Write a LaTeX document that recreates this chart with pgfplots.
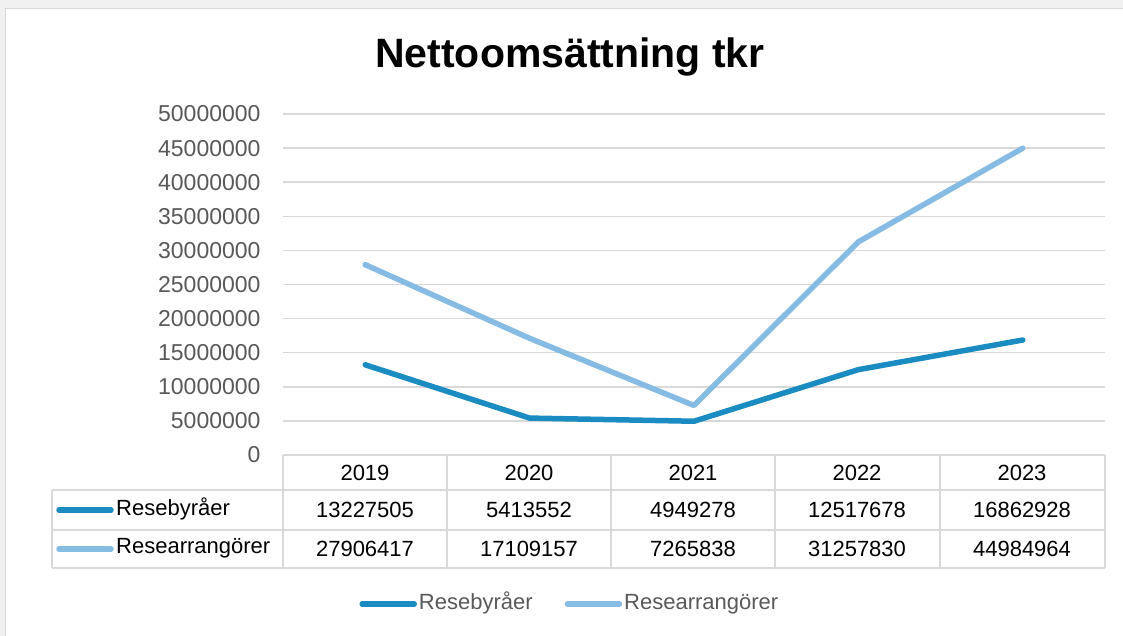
\documentclass[border=0pt]{standalone}
\usepackage{pgfplots}
\pgfplotsset{compat=1.18}
\usepackage{fontspec}
\setmainfont{Liberation Sans}
\definecolor{dark}{HTML}{1A8CC2}
\definecolor{light}{HTML}{86BCE3}
\definecolor{gridc}{HTML}{D9D9D9}
\definecolor{tickc}{HTML}{595959}
\definecolor{bgc}{HTML}{F0F0F0}
\begin{document}
\begin{tikzpicture}[x=1pt,y=1pt]
\useasboundingbox (0,0) rectangle (1123,636);
\fill[bgc] (0,0) rectangle (1123,636);
\fill[white] (6,0) rectangle (1123,627);
\draw[gridc,line width=1pt] (5.5,0) -- (5.5,627.5) -- (1123,627.5);
\node[font=\fontsize{41}{48}\selectfont\bfseries] at (570,579) {Nettoomsättning tkr};
\coordinate (A) at (283,181);
\begin{axis}[
  at={(A)}, anchor=south west, scale only axis,
  width=822pt, height=341pt,
  xmin=-0.5, xmax=4.5, ymin=0, ymax=50000000,
  axis line style={draw=none},
  xtick=\empty,
  ytick={0,5000000,...,50000000},
  ymajorgrids, grid style={gridc,line width=1.5pt},
  major tick length=0pt,
  scaled y ticks=false,
  /pgf/number format/assume math mode=true,
  yticklabel={\pgfmathprintnumber[fixed,precision=0,1000 sep={}]{\tick}},
  yticklabel style={font=\fontsize{23}{27}\selectfont, text=tickc, anchor=east, xshift=-19pt},
  clip=false,
  legend style={at={(0.349,-0.437)}, anchor=center, draw=none, fill=none,
    legend columns=2, font=\fontsize{22}{26}\selectfont, text=tickc,
    nodes={text height=16pt, text depth=5pt},
    /tikz/every even column/.append style={column sep=30pt}},
  legend image code/.code={\draw[#1,line width=5.5pt,line cap=round] (0pt,0pt) -- (52pt,0pt);},
]
\addplot[dark, line width=5.5pt, line join=round, line cap=round] coordinates {(0,13227505) (1,5413552) (2,4949278) (3,12517678) (4,16862928)};
\addlegendentry{Resebyråer}
\addplot[light, line width=5.5pt, line join=round, line cap=round] coordinates {(0,27906417) (1,17109157) (2,7265838) (3,31257830) (4,44984964)};
\addlegendentry{Researrangörer}
\end{axis}
% data table
\begin{scope}[gridc, line width=1.5pt]
\draw (283,181) -- (1105,181);
\draw (52,146) -- (1105,146);
\draw (52,106) -- (1105,106);
\draw (52,68) -- (1105,68);
\draw (52,146) -- (52,68);
\foreach \x in {283,447,611,775,940,1105} \draw (\x,181) -- (\x,68);
\end{scope}
\begin{scope}[every node/.style={font=\fontsize{22}{26}\selectfont, text=black}]
\foreach \x/\t in {365/2019,529/2020,693/2021,857/2022,1022/2023} \node at (\x,163.5) {\t};
\foreach \x/\t in {365/13227505,529/5413552,693/4949278,857/12517678,1022/16862928} \node at (\x,126) {\t};
\foreach \x/\t in {365/27906417,529/17109157,693/7265838,857/31257830,1022/44984964} \node at (\x,87) {\t};
\draw[dark,line width=5.5pt,line cap=round] (59,126) -- (111,126);
\draw[light,line width=5.5pt,line cap=round] (59,87) -- (111,87);
\node[anchor=west,inner sep=0pt] at (116,127) {Resebyråer};
\node[anchor=west,inner sep=0pt] at (116,88) {Researrangörer};
\end{scope}
\end{tikzpicture}
\end{document}
